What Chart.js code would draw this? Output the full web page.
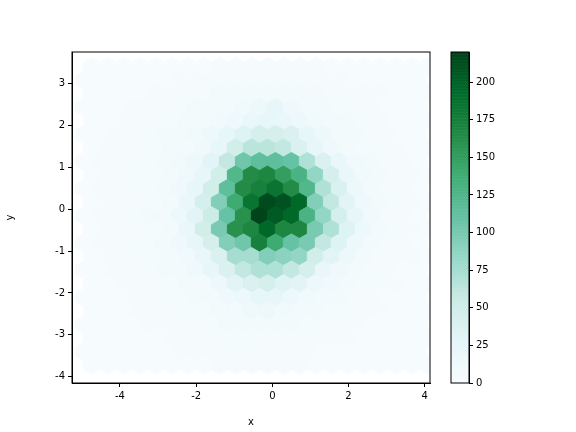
<!DOCTYPE html>
<html><head><meta charset="utf-8">
<script src="https://cdn.jsdelivr.net/npm/chart.js@4"></script>
<style>body{margin:0;background:#fff}#w{position:relative;width:576px;height:432px}canvas{position:absolute;left:0;top:0}</style>
</head><body><div id="w"><canvas id="c1" width="576" height="432"></canvas><canvas id="c2" width="576" height="432"></canvas></div>
<script>
// hex lattice: row index j from 11 (top) to -11, column k from -11 to 10
const rowJ = [11,10,9,8,7,6,5,4,3,2,1,0,-1,-2,-3,-4,-5,-6,-7,-8,-9,-10,-11];
const colK = [-11,-10,-9,-8,-7,-6,-5,-4,-3,-2,-1,0,1,2,3,4,5,6,7,8,9,10];
const counts = [
[1,1,1,1,1,2,2,2,3,3,3,4,3,3,3,2,2,2,1,1,1,1],
[1,1,2,2,2,2,3,3,4,4,5,5,5,4,4,3,3,2,2,2,1,1],
[1,2,2,2,3,3,4,5,6,6,8,8,8,7,6,5,4,3,3,2,2,1],
[2,2,2,3,3,4,5,6,8,9,10,15,25,12,9,7,5,4,3,2,2,1],
[2,2,3,3,4,5,6,8,10,12,20,25,20,15,10,8,6,4,3,2,2,1],
[2,2,3,3,4,6,8,10,15,25,35,45,45,40,25,15,8,6,4,3,2,1],
[2,3,3,4,5,6,8,12,25,50,65,65,60,40,25,12,8,5,4,3,2,1],
[2,3,3,4,5,7,10,15,30,60,105,115,115,110,70,40,20,10,6,4,3,2],
[2,3,3,4,5,6,12,25,50,125,165,170,150,130,85,45,20,10,6,4,3,2],
[2,3,3,4,5,6,12,25,50,115,165,175,185,165,125,70,40,15,8,5,3,2],
[2,3,3,4,5,8,20,45,95,140,185,215,210,195,95,60,30,12,7,4,3,2],
[2,3,3,4,6,8,15,30,55,110,160,220,205,195,130,85,45,25,10,5,3,2],
[2,3,3,4,5,8,20,50,100,160,170,195,170,170,100,70,35,15,8,5,3,2],
[2,3,3,4,5,7,12,25,45,95,105,175,140,110,100,60,35,15,8,4,3,2],
[2,3,3,4,5,6,10,20,40,75,75,95,90,85,50,30,15,8,5,4,3,2],
[2,2,3,3,4,6,8,12,25,40,60,70,70,60,45,20,12,7,5,3,2,2],
[2,2,3,3,4,5,6,8,15,30,40,45,35,30,15,10,7,5,4,3,2,2],
[1,2,2,3,3,4,5,6,8,12,15,25,25,15,10,8,6,4,3,2,2,1],
[1,2,2,3,3,4,4,5,7,9,12,15,10,8,7,5,4,3,3,2,2,1],
[1,2,2,2,3,3,4,4,5,6,8,8,7,6,5,4,4,3,2,2,1,1],
[1,1,2,2,2,3,3,4,4,5,5,5,5,4,4,3,3,2,2,2,1,1],
[1,1,1,2,2,2,3,3,3,4,4,4,3,3,3,2,2,2,2,1,1,1],
[1,1,1,1,2,2,2,2,3,3,3,3,3,3,2,2,2,2,1,1,1,1]
];
const xTicks = [-4,-2,0,2,4];
const yTicks = [-4,-3,-2,-1,0,1,2,3];
const cbTicks = [0,25,50,75,100,125,150,175,200];
const VMAX = 220;
const X0 = -0.34, DX = 0.42, Y0 = -0.16, DY = 0.648;

const BuGn = ['#f7fcfd','#e5f5f9','#ccece6','#99d8c9','#66c2a4','#41ae76','#238b45','#006d2c','#00441b'];
function hex2rgb(h){return [1,3,5].map(i=>parseInt(h.substr(i,2),16));}
function cmap(t){t=Math.max(0,Math.min(1,t));const s=t*8,i=Math.min(7,Math.floor(s)),f=s-i;
 const a=hex2rgb(BuGn[i]),b=hex2rgb(BuGn[i+1]);return 'rgb('+a.map((v,n)=>Math.round(v+(b[n]-v)*f)).join(',')+')';}

const points=[];
rowJ.forEach((j,r)=>colK.forEach((k,c)=>{
  const odd = ((j%2)+2)%2===1;
  points.push({x:X0+DX*k+(odd?DX/2:0), y:Y0+DY/2*j, v:counts[r][c]});
}));

const hexPlugin={id:'hex',beforeDatasetsDraw(ch){
  const {ctx,chartArea:a,scales:{x,y}}=ch;ctx.save();
  ctx.beginPath();ctx.rect(a.left,a.top,a.width,a.height);ctx.clip();
  const vx=[0.5,0.5,0,-0.5,-0.5,0],vy=[-1/6,1/6,1/3,1/6,-1/6,-1/3];
  points.forEach(p=>{ctx.beginPath();
    for(let i=0;i<6;i++){const px=x.getPixelForValue(p.x+vx[i]*DX),py=y.getPixelForValue(p.y+vy[i]*DY);i?ctx.lineTo(px,py):ctx.moveTo(px,py);}
    ctx.closePath();const col=cmap(p.v/VMAX);ctx.fillStyle=col;ctx.strokeStyle=col;ctx.lineWidth=1;ctx.fill();ctx.stroke();});
  ctx.restore();}};

const font={family:'DejaVu Sans',size:10};
const axisCommon={grid:{display:false,drawTicks:true,tickLength:4,color:'#000'},border:{color:'#000',width:1},ticks:{color:'#000',font,padding:3}};
new Chart(document.getElementById('c1'),{type:'scatter',
 data:{datasets:[{data:points,pointRadius:0}]},
 options:{responsive:false,animation:false,events:[],plugins:{legend:{display:false},tooltip:{enabled:false}},
  layout:{padding:{left:0,top:52,right:146,bottom:0}},
  scales:{
   x:{...axisCommon,min:-5.26,max:4.14,grid:{display:true,drawOnChartArea:false,tickLength:4,color:'#000'},
      afterBuildTicks:s=>{s.ticks=xTicks.map(v=>({value:v}));},
      afterFit:s=>{s.height=49;},title:{display:true,text:'x',color:'#000',font,padding:{top:2}}},
   y:{...axisCommon,min:-4.15,max:3.75,grid:{display:true,drawOnChartArea:false,tickLength:4,color:'#000'},
      afterBuildTicks:s=>{s.ticks=yTicks.map(v=>({value:v}));},
      afterFit:s=>{s.width=72;},title:{display:true,text:'y',color:'#000',font,padding:{bottom:8}}}
  }},
 plugins:[hexPlugin,{id:'frame',afterDraw(ch){const {ctx,chartArea:a}=ch;ctx.save();ctx.strokeStyle='#000';ctx.lineWidth=1;ctx.strokeRect(a.left,a.top,a.width,a.height);ctx.restore();}}]
});

const cbPlugin={id:'cb',beforeDatasetsDraw(ch){const {ctx,chartArea:a,scales:{y}}=ch;ctx.save();
  for(let v=0;v<VMAX;v+=0.5){const p1=y.getPixelForValue(v),p2=y.getPixelForValue(v+0.5);ctx.fillStyle=cmap(v/VMAX);ctx.fillRect(a.left,p2,a.width,p1-p2+0.6);}
  ctx.strokeStyle='#000';ctx.lineWidth=1;ctx.strokeRect(a.left,a.top,a.width,a.height);ctx.restore();}};
new Chart(document.getElementById('c2'),{type:'scatter',data:{datasets:[{data:[]}]},
 options:{responsive:false,animation:false,events:[],plugins:{legend:{display:false},tooltip:{enabled:false}},
  layout:{padding:{left:451,top:52,right:0,bottom:49}},
  scales:{x:{display:false,min:0,max:1},
   y:{...axisCommon,position:'right',min:0,max:VMAX,grid:{display:true,drawOnChartArea:false,tickLength:4,color:'#000'},
      afterBuildTicks:s=>{s.ticks=cbTicks.map(v=>({value:v}));},afterFit:s=>{s.width=107;}}}},
 plugins:[cbPlugin]});
</script></body></html>
